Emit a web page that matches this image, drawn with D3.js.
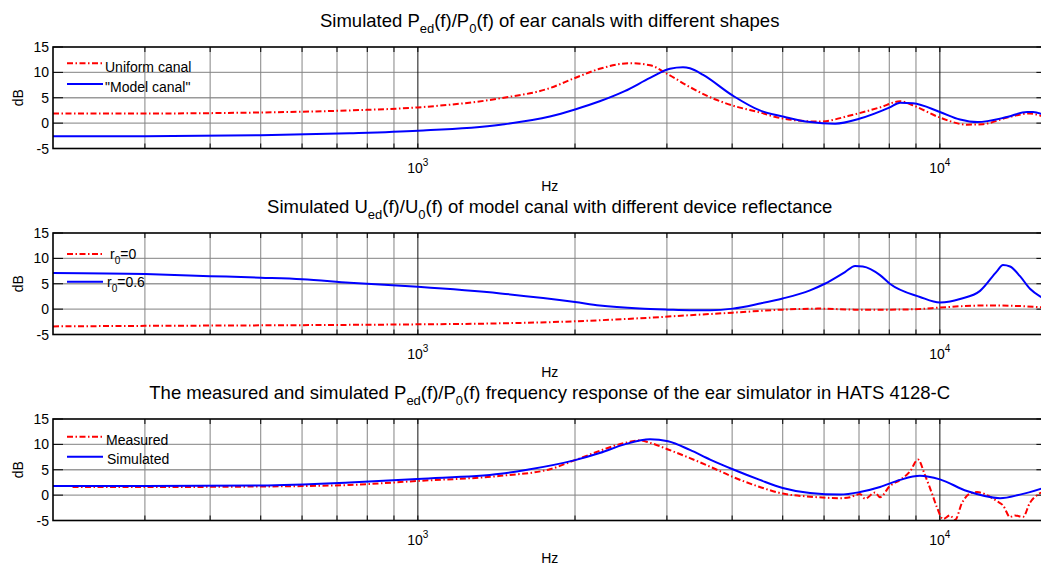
<!DOCTYPE html>
<html>
<head>
<meta charset="utf-8">
<script src="https://cdn.jsdelivr.net/npm/d3@7"></script>
<style>
  body { margin: 0; background: #fff; }
  text { font-family: "Liberation Sans", Arial, sans-serif; fill: #000; }
</style>
</head>
<body>
<svg id="chart" width="1041" height="565"></svg>
<script>
// ---- data (Hz, dB) ----

// panel 1: ear canals with different shapes
const uniformFreq = [200, 300, 500, 740, 1000, 1440, 1790, 2000, 2230, 2550, 2785, 3015, 3320, 3630, 4000, 4520, 5000, 5890, 6730, 7680, 8390, 8880, 10000, 11270, 12100, 13450, 14880, 16000];
const uniformDb   = [1.9, 1.9, 2.1, 2.5, 3.1, 4.9, 6.9, 8.9, 10.7, 11.8, 11.4, 9.6, 7.1, 5.1, 3.5, 2.1, 0.9, 0.3, 1.5, 3.1, 4.3, 3.5, 1.1, -0.3, -0.2, 1.1, 1.9, 1.0];

const modelFreq = [200, 300, 500, 740, 1000, 1440, 1790, 2000, 2230, 2490, 2785, 3040, 3220, 3320, 3520, 4000, 4520, 5000, 5640, 6300, 7030, 8020, 8390, 8880, 10000, 10930, 11800, 13450, 14690, 15080, 16000];
const modelDb   = [-2.6, -2.6, -2.4, -2.0, -1.5, -0.3, 1.3, 2.7, 4.3, 6.3, 8.9, 10.7, 11.0, 10.8, 9.5, 5.5, 2.5, 1.3, 0.2, -0.1, 0.9, 3.1, 4.0, 3.9, 2.2, 0.7, 0.2, 1.2, 2.2, 2.2, 1.4];

// panel 2: device reflectance
const r0Freq = [200, 300, 500, 740, 1000, 1440, 2000, 2660, 3320, 4010, 5000, 5890, 6880, 8020, 9080, 10000, 11940, 13040, 14240, 16000];
const r0Db   = [-3.4, -3.3, -3.2, -3.1, -3.0, -2.8, -2.4, -1.8, -1.2, -0.7, -0.1, 0.1, -0.1, -0.1, 0.0, 0.3, 0.7, 0.7, 0.6, 0.3];

const r06Freq = [200, 300, 400, 500, 600, 740, 1000, 1440, 2000, 2230, 2660, 3015, 3320, 3630, 4010, 4520, 5000, 5640, 6020, 6580, 6880, 7120, 7680, 8020, 9160, 10000, 10460, 10930, 11940, 12870, 13210, 13630, 14240, 14880, 15620, 16000];
const r06Db   = [7.1, 6.9, 6.5, 6.2, 5.9, 5.2, 4.4, 3.1, 1.4, 0.7, 0.1, -0.1, -0.2, -0.2, 0.1, 1.1, 2.1, 3.7, 5.0, 7.3, 8.5, 8.4, 6.7, 5.0, 2.4, 1.3, 1.5, 2.0, 3.6, 7.5, 8.7, 8.4, 6.5, 4.0, 2.4, 1.8];

// panel 3: HATS 4128-C ear simulator
const measuredFreq = [218, 300, 500, 740, 1000, 1440, 1790, 2000, 2550, 2660, 2785, 3015, 3320, 3630, 4010, 4520, 5000, 5640, 6440, 6730, 7030, 7190, 7510, 7680, 8020, 8390, 8770, 9080, 9360, 9660, 9880, 10140, 10460, 10690, 11030, 11420, 11780, 12310, 12870, 13210, 13630, 13930, 14430, 14880, 15350, 16000];
const measuredDb   = [1.6, 1.6, 1.7, 2.0, 2.8, 3.8, 5.1, 6.9, 10.5, 10.8, 10.3, 9.0, 7.3, 5.6, 3.6, 1.6, 0.3, -0.3, -0.6, -0.4, 0.2, -0.7, 0.5, -0.4, 1.8, 3.0, 4.7, 7.0, 4.0, 0.3, -2.5, -4.7, -4.0, -4.9, -1.5, 0.3, 0.6, 0.0, -1.2, -2.0, -4.3, -4.0, -4.3, -1.5, 0.0, 0.8];

const simulatedFreq = [200, 300, 500, 740, 1000, 1440, 1620, 2000, 2230, 2490, 2785, 3015, 3320, 3630, 4010, 4520, 5000, 5640, 6440, 7030, 7680, 8390, 9160, 10000, 11270, 13040, 14240, 16000];
const simulatedDb   = [1.8, 1.8, 1.9, 2.5, 3.2, 4.2, 5.0, 6.9, 8.3, 10.0, 11.0, 10.6, 8.9, 7.0, 5.1, 3.0, 1.4, 0.4, 0.1, 0.6, 1.6, 3.0, 3.8, 3.1, 0.8, -0.6, 0.1, 1.6];

// axis ticks
const yTicks = [-5, 0, 5, 10, 15];
const xMajor = [1000, 10000];
const xMajorLabels = [["10", "3"], ["10", "4"]];
const xMinor = [300, 400, 500, 600, 700, 800, 900, 2000, 3000, 4000, 5000, 6000, 7000, 8000, 9000];

// ---- layout ----
const left = 53;
const decade = 522;
const xScale = d3.scaleLog()
  .domain([200, 16000])
  .range([left, left + decade * Math.log10(16000 / 200)]);
const plotH = 101.5;
const midX = (xScale.range()[0] + xScale.range()[1]) / 2;

const toPts = (f, v) => f.map((d, i) => ({ f: d, v: v[i] }));

const panels = [
  {
    top: 47,
    title: [["Simulated P"], ["ed", "sub"], ["(f)/P"], ["0", "sub"], ["(f) of ear canals with different shapes"]],
    series: [
      { pts: toPts(uniformFreq, uniformDb), color: "#ff0000", dash: true, label: [["Uniform canal"]], ly: 63.3, ty: 71.5 },
      { pts: toPts(modelFreq, modelDb), color: "#0000ff", dash: false, label: [["\"Model canal\""]], ly: 84, ty: 92 }
    ]
  },
  {
    top: 233,
    title: [["Simulated U"], ["ed", "sub"], ["(f)/U"], ["0", "sub"], ["(f) of model canal with different device reflectance"]],
    series: [
      { pts: toPts(r0Freq, r0Db), color: "#ff0000", dash: true, label: [["r"], ["0", "sub"], ["=0"]], ly: 254, ty: 258.5, tx: 110 },
      { pts: toPts(r06Freq, r06Db), color: "#0000ff", dash: false, label: [["r"], ["0", "sub"], ["=0.6"]], ly: 281.7, ty: 286.5, tx: 107 }
    ]
  },
  {
    top: 419,
    title: [["The measured and simulated P"], ["ed", "sub"], ["(f)/P"], ["0", "sub"], ["(f) frequency response of the ear simulator in HATS 4128-C"]],
    series: [
      { pts: toPts(measuredFreq, measuredDb), color: "#ff0000", dash: true, label: [["Measured"]], ly: 436.7, ty: 445, tx: 106 },
      { pts: toPts(simulatedFreq, simulatedDb), color: "#0000ff", dash: false, label: [["Simulated"]], ly: 456.7, ty: 463.5, tx: 107 }
    ]
  }
];

const svg = d3.select("#chart");

// write text made of normal / subscript pieces
function richText(sel, parts, subSize, subShift) {
  let shift = 0;
  parts.forEach(([txt, kind]) => {
    const target = kind === "sub" ? subShift : 0;
    const ts = sel.append("tspan").attr("dy", target - shift).text(txt);
    if (kind === "sub") ts.attr("font-size", subSize);
    shift = target;
  });
}

panels.forEach((p, pi) => {
  const yScale = d3.scaleLinear().domain([-5, 15]).range([p.top + plotH, p.top]);
  const [x0, x1] = xScale.range();
  const g = svg.append("g");

  const clipId = "clip" + pi;
  g.append("clipPath").attr("id", clipId)
    .append("rect").attr("x", x0).attr("y", p.top).attr("width", x1 - x0).attr("height", plotH);

  // horizontal grid
  g.append("g").selectAll("line")
    .data([0, 5, 10])
    .join("line")
    .attr("x1", x0).attr("x2", x1)
    .attr("y1", d => yScale(d)).attr("y2", d => yScale(d))
    .attr("stroke", "#9a9a9a").attr("stroke-width", 1.3);

  // vertical grid
  g.append("g").selectAll("line")
    .data(xMinor)
    .join("line")
    .attr("x1", d => xScale(d)).attr("x2", d => xScale(d))
    .attr("y1", p.top).attr("y2", p.top + plotH)
    .attr("stroke", "#858585").attr("stroke-width", 1);

  g.append("g").selectAll("line")
    .data(xMajor)
    .join("line")
    .attr("x1", d => xScale(d)).attr("x2", d => xScale(d))
    .attr("y1", p.top).attr("y2", p.top + plotH)
    .attr("stroke", "#111").attr("stroke-width", 1);

  // x ticks (inward, top and bottom)
  const xt = g.append("g").attr("stroke", "#000").attr("stroke-width", 1);
  xMinor.concat(xMajor).forEach(d => {
    xt.append("line").attr("x1", xScale(d)).attr("x2", xScale(d))
      .attr("y1", p.top).attr("y2", p.top + 5);
    xt.append("line").attr("x1", xScale(d)).attr("x2", xScale(d))
      .attr("y1", p.top + plotH).attr("y2", p.top + plotH - 5);
  });

  // y ticks (inward, left and right)
  yTicks.forEach(d => {
    xt.append("line").attr("x1", x0).attr("x2", x0 + 10)
      .attr("y1", yScale(d)).attr("y2", yScale(d));
    xt.append("line").attr("x1", x1).attr("x2", x1 - 10)
      .attr("y1", yScale(d)).attr("y2", yScale(d));
  });

  // curves
  const line = d3.line()
    .x(d => xScale(d.f))
    .y(d => yScale(d.v))
    .curve(d3.curveMonotoneX);

  const curves = g.append("g").attr("clip-path", `url(#${clipId})`);
  p.series.forEach(s => {
    curves.append("path")
      .datum(s.pts)
      .attr("d", line)
      .attr("fill", "none")
      .attr("stroke", s.color)
      .attr("stroke-width", 2)
      .attr("stroke-dasharray", s.dash ? "6,2.5,1.5,2.5" : null);
  });

  // box
  g.append("rect")
    .attr("x", x0).attr("y", p.top).attr("width", x1 - x0).attr("height", plotH)
    .attr("fill", "none").attr("stroke", "#000").attr("stroke-width", 1.6);

  // y tick labels
  g.append("g").selectAll("text")
    .data(yTicks)
    .join("text")
    .attr("x", 49)
    .attr("y", d => yScale(d))
    .attr("dy", "0.36em")
    .attr("text-anchor", "end")
    .attr("font-size", 14)
    .text(d => d);

  // x tick labels 10^3, 10^4
  xMajor.forEach((d, i) => {
    const t = g.append("text")
      .attr("x", xScale(d))
      .attr("y", p.top + plotH + 24.5)
      .attr("text-anchor", "middle")
      .attr("font-size", 14);
    t.append("tspan").text(xMajorLabels[i][0]);
    t.append("tspan").attr("font-size", 10).attr("dy", -7).text(xMajorLabels[i][1]);
  });

  // axis labels
  g.append("text")
    .attr("x", midX).attr("y", p.top + plotH + 42.5)
    .attr("text-anchor", "middle").attr("font-size", 14)
    .text("Hz");

  g.append("text")
    .attr("transform", `translate(23,${p.top + plotH / 2}) rotate(-90)`)
    .attr("text-anchor", "middle").attr("font-size", 14)
    .text("dB");

  // title
  const title = g.append("text")
    .attr("x", midX).attr("y", p.top - 20)
    .attr("text-anchor", "middle")
    .attr("font-size", 18.5);
  richText(title, p.title, 13, 6);

  // legend (no box)
  p.series.forEach(s => {
    g.append("line")
      .attr("x1", 67).attr("x2", 103)
      .attr("y1", s.ly).attr("y2", s.ly)
      .attr("stroke", s.color).attr("stroke-width", 2)
      .attr("stroke-dasharray", s.dash ? "6,2.5,1.5,2.5" : null);
    const t = g.append("text")
      .attr("x", s.tx || 105).attr("y", s.ty)
      .attr("font-size", 14);
    richText(t, s.label, 10, 5);
  });
});
</script>
</body>
</html>
